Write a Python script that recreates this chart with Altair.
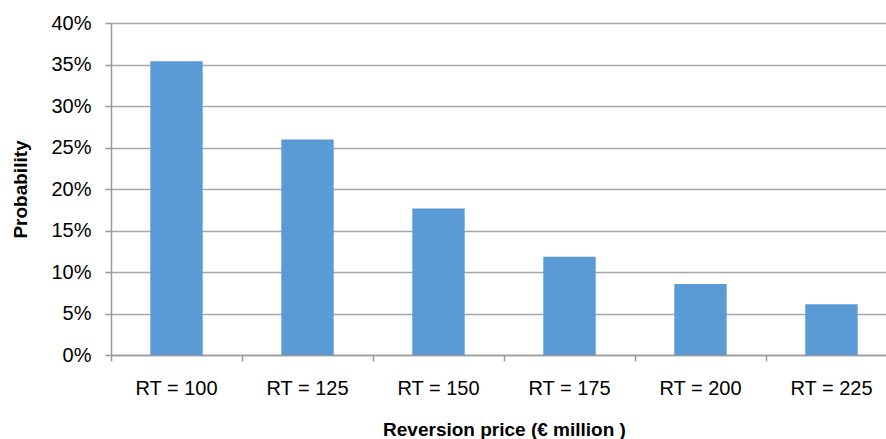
import altair as alt
import pandas as pd

categories = ["RT = 100", "RT = 125", "RT = 150", "RT = 175", "RT = 200", "RT = 225"]
probabilities = [0.354, 0.2596, 0.1766, 0.1183, 0.0855, 0.061]

df = pd.DataFrame({"cat": categories, "p": probabilities})

FONT = "Liberation Sans"

chart = alt.Chart(df).mark_bar(
    color="#5b9bd5", width=alt.RelativeBandSize(0.4)
).encode(
    x=alt.X(
        "cat:N",
        sort=categories,
        scale=alt.Scale(paddingInner=0, paddingOuter=0, range=[0, 786]),
        axis=alt.Axis(
            title="Reversion price (€ million )",
            titleFont=FONT, titleFontSize=19, titleFontWeight="bold", titleColor="#000000",
            titlePadding=22, titleX=393,
            labelFont=FONT, labelFontSize=20, labelColor="#000000", labelPadding=17,
            labelAngle=0,
            bandPosition=0, tickSize=6, tickColor="#9a9a9a", domainColor="#9a9a9a",
            domainWidth=1.5, tickWidth=1.5, grid=False,
        ),
    ),
    y=alt.Y(
        "p:Q",
        scale=alt.Scale(domain=[0, 0.4], nice=False),
        axis=alt.Axis(
            title="Probability", format=".0%", values=[0, 0.05, 0.1, 0.15, 0.2, 0.25, 0.3, 0.35, 0.4],
            titleFont=FONT, titleFontSize=19, titleFontWeight="bold", titleColor="#000000",
            titlePadding=20,
            labelFont=FONT, labelFontSize=20, labelColor="#000000", labelPadding=14,
            tickSize=6, tickColor="#9a9a9a", domainColor="#9a9a9a", domainWidth=1.5, tickWidth=1.5,
            grid=True, gridColor="#a6a6a6", gridWidth=1.5,
        ),
    ),
).properties(
    width=775,
    height=332,
    autosize=alt.AutoSizeParams(type="none"),
    padding={"left": 111, "right": 0, "top": 23, "bottom": 84},
).configure_view(stroke=None)

chart.save("out.html", embed_options={"renderer": "svg", "actions": False})
